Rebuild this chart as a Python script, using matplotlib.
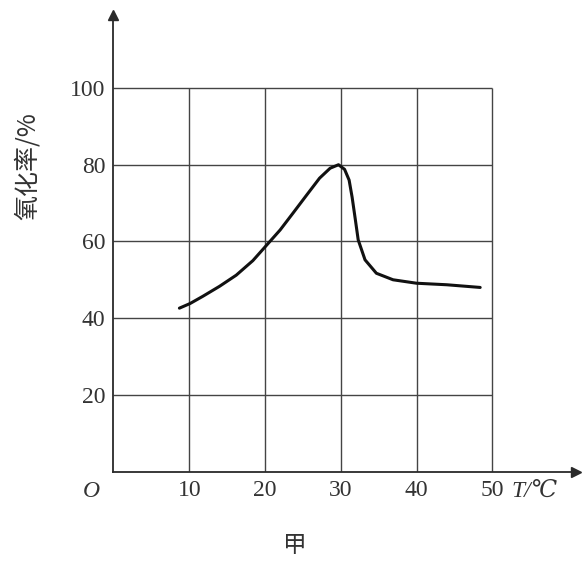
import matplotlib.pyplot as plt

# data
temp = [8.7, 10.1, 11.8, 14.0, 16.2, 18.4, 20.2, 22.0, 23.7, 25.5, 27.2, 28.6, 29.7,
        30.5, 31.1, 31.5, 31.9, 32.3, 33.2, 34.7, 36.9, 40.0, 44.0, 48.4]
rate = [42.6, 43.8, 45.7, 48.3, 51.2, 55.0, 59.0, 63.0, 67.4, 72.1, 76.5, 79.1, 80.0,
        78.8, 76.0, 71.5, 66.0, 60.4, 55.2, 51.7, 50.0, 49.1, 48.7, 48.0]
x_ticks = [10, 20, 30, 40, 50]
y_ticks = [20, 40, 60, 80, 100]

serif = ['Liberation Serif', 'DejaVu Serif']
cjk = ['Noto Sans CJK SC', 'DejaVu Sans']
ink = '#2a2a2a'

fig = plt.figure(figsize=(5.85, 5.62), dpi=100)
ax = fig.add_axes([0.194, 0.161, 0.790, 0.812])
ax.set_xlim(0, 61)
ax.set_ylim(0, 119)

# grid only inside the 0-50 / 0-100 box
ax.vlines(x_ticks, 0, 100, color='#444444', lw=1.0)
ax.hlines(y_ticks, 0, 50, color='#444444', lw=1.0)

ax.plot(temp, rate, color='#111111', lw=2.2, solid_joinstyle='round',
        solid_capstyle='round')

for s in ['top', 'right']:
    ax.spines[s].set_visible(False)
ax.spines['left'].set_color(ink)
ax.spines['bottom'].set_color(ink)
ax.spines['left'].set_linewidth(1.3)
ax.spines['bottom'].set_linewidth(1.3)

# arrow heads
ax.plot(1, 0, '>', color=ink, ms=7, transform=ax.transAxes, clip_on=False)
ax.plot(0, 1, '^', color=ink, ms=7, transform=ax.transAxes, clip_on=False)

ax.set_xticks(x_ticks)
ax.set_yticks(y_ticks)
ax.tick_params(length=0, pad=6, colors='#333333')
for lab in ax.get_xticklabels() + ax.get_yticklabels():
    lab.set_family(serif)
    lab.set_fontsize(17)

ax.text(-1.8, -2.5, 'O', family=serif, style='italic', fontsize=17,
        color='#333333', ha='right', va='top')
ax.text(52.5, -2.5, 'T/℃', family=serif, style='italic', fontsize=17,
        color='#333333', ha='left', va='top')
fig.text(0.048, 0.705, '氧化率/%', family=cjk, fontsize=18, color='#333333',
         rotation=90, ha='center', va='center')
fig.text(0.504, 0.03, '甲', family=cjk, fontsize=17, color='#333333',
         ha='center', va='center')

fig.savefig('out.png', dpi=100)
